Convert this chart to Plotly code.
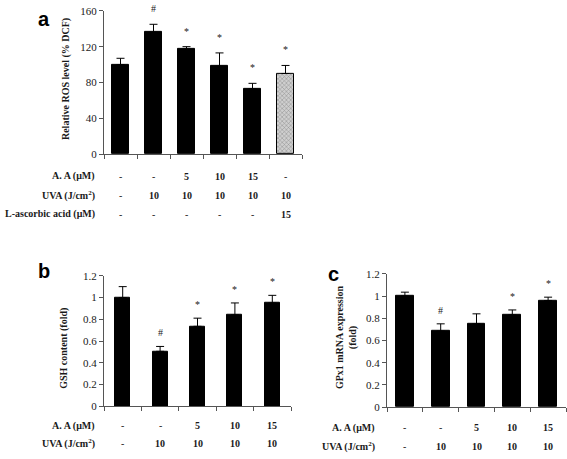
import plotly.graph_objects as go

# ---- data ----
a_vals = [100, 136, 117, 98, 73, 90]
a_err = [7, 9, 3, 15, 6, 9]
a_marks = ["", "#", "*", "*", "*", "*"]
a_aa = ["-", "-", "5", "10", "15", "-"]
a_uva = ["-", "10", "10", "10", "10", "10"]
a_lasc = ["-", "-", "-", "-", "-", "15"]

b_vals = [1.0, 0.505, 0.735, 0.84, 0.95]
b_err = [0.10, 0.045, 0.075, 0.11, 0.07]
b_marks = ["", "#", "*", "*", "*"]

c_vals = [1.0, 0.685, 0.75, 0.83, 0.96]
c_err = [0.035, 0.065, 0.09, 0.045, 0.03]
c_marks = ["", "#", "", "*", "*"]

bc_aa = ["-", "-", "5", "10", "15"]
bc_uva = ["-", "10", "10", "10", "10"]

a_ticks = [0, 40, 80, 120, 160]
bc_ticks = [0, 0.2, 0.4, 0.6, 0.8, 1, 1.2]

W, H = 567, 459
SERIF = "Liberation Serif"
SANS = "Liberation Sans"
TXT = "#1a1a1a"

def px(x):
    return x / W

def py(y):
    return 1 - y / H

fig = go.Figure()

panels = [
    ("", a_vals, a_err, a_marks, (104, 302), (152, 5), [0, 160], a_ticks, 0.53, 8),
    ("2", b_vals, b_err, b_marks, (104, 291), (411, 277), [0, 1.2], bc_ticks, 0.40, 6),
    ("3", c_vals, c_err, c_marks, (387, 566), (412, 275), [0, 1.2], bc_ticks, 0.50, 6),
]

annotations = []
for idx, (sfx, vals, err, marks, xd, yd, rng, ticks, bw, shift) in enumerate(panels):
    n = len(vals)
    xs = list(range(n))
    colors = ["black"] * n
    pats = [""] * n
    if idx == 0:
        colors[-1] = "#cfcfcf"
        pats[-1] = "x"
    fig.add_trace(go.Bar(
        x=xs, y=vals, width=bw,
        marker=dict(color=colors, line=dict(color="black", width=1),
                    pattern=dict(shape=pats, fgcolor="#8a8a8a", size=3, solidity=0.3)),
        error_y=dict(type="data", symmetric=False, array=err,
                     arrayminus=[0] * n, color="black", thickness=1, width=4),
        xaxis="x" + sfx, yaxis="y" + sfx, showlegend=False,
    ))
    xa = dict(domain=[px(xd[0]), px(xd[1])], range=[-0.5, n - 0.5],
              tickvals=[i - 0.5 for i in range(n + 1)], showticklabels=False,
              ticks="outside", ticklen=4, tickcolor="#555", showline=True,
              linecolor="#555", linewidth=1, showgrid=False, zeroline=False,
              anchor="y" + sfx, fixedrange=True)
    ya = dict(domain=[py(yd[0]), py(yd[1])], range=rng, tickvals=ticks,
              ticks="outside", ticklen=4, tickcolor="#555", showline=True,
              linecolor="#555", linewidth=1, showgrid=False, zeroline=False,
              tickfont=dict(family=SERIF, size=11, color=TXT),
              anchor="x" + sfx, fixedrange=True)
    fig.update_layout(**{"xaxis" + sfx: xa, "yaxis" + sfx: ya})
    for i, m in enumerate(marks):
        if m:
            annotations.append(dict(x=i, y=vals[i] + err[i], xref="x" + sfx, yref="y" + sfx,
                                    text=m, showarrow=False, yanchor="bottom", yshift=shift,
                                    font=dict(family=SERIF, size=10, color=TXT)))

def rows(labels_rows, sfx, ys, label_right):
    for (label, vals), y in zip(labels_rows, ys):
        annotations.append(dict(x=px(label_right), y=py(y), xref="paper", yref="paper",
                                text=label, showarrow=False, xanchor="right", yanchor="middle",
                                font=dict(family=SERIF, size=10, color=TXT)))
        for i, v in enumerate(vals):
            annotations.append(dict(x=i, y=py(y), xref="x" + sfx, yref="paper",
                                    text=v if v == "-" else "<b>%s</b>" % v, showarrow=False,
                                    yanchor="middle",
                                    font=dict(family=SERIF, size=10, color=TXT)))

rows([("<b>A. A (μM)</b>", a_aa), ("<b>UVA (J/cm<sup>2</sup>)</b>", a_uva),
      ("<b>L-ascorbic acid (μM)</b>", a_lasc)], "", [175, 195, 214], 97)
rows([("<b>A. A (μM)</b>", bc_aa), ("<b>UVA (J/cm<sup>2</sup>)</b>", bc_uva)], "2", [431, 449], 97)
rows([("<b>A. A (μM)</b>", bc_aa), ("<b>UVA (J/cm<sup>2</sup>)</b>", bc_uva)], "3", [433, 452], 377)

for text, x, y in [("<b>Relative ROS level (% DCF)</b>", 66, 75),
                   ("<b>GSH content (fold)</b>", 64, 352),
                   ("<b>GPx1 mRNA expression<br>(fold)</b>", 346, 340)]:
    annotations.append(dict(x=px(x), y=py(y), xref="paper", yref="paper", text=text,
                            textangle=-90, showarrow=False, xanchor="center", yanchor="middle",
                            font=dict(family=SERIF, size=10, color=TXT)))

for t, x, y in [("a", 44, 13), ("b", 44, 272), ("c", 333, 275)]:
    annotations.append(dict(x=px(x), y=py(y), xref="paper", yref="paper", text="<b>%s</b>" % t,
                            showarrow=False, xanchor="center", yanchor="middle",
                            font=dict(family=SANS, size=20, color="black")))

fig.update_layout(width=W, height=H, margin=dict(l=0, r=0, t=0, b=0),
                  paper_bgcolor="white", plot_bgcolor="white",
                  annotations=annotations, bargap=0)
fig.write_html("out.html", config={"displayModeBar": False},
               post_script="document.body.style.margin='0';document.body.style.overflow='hidden';")
